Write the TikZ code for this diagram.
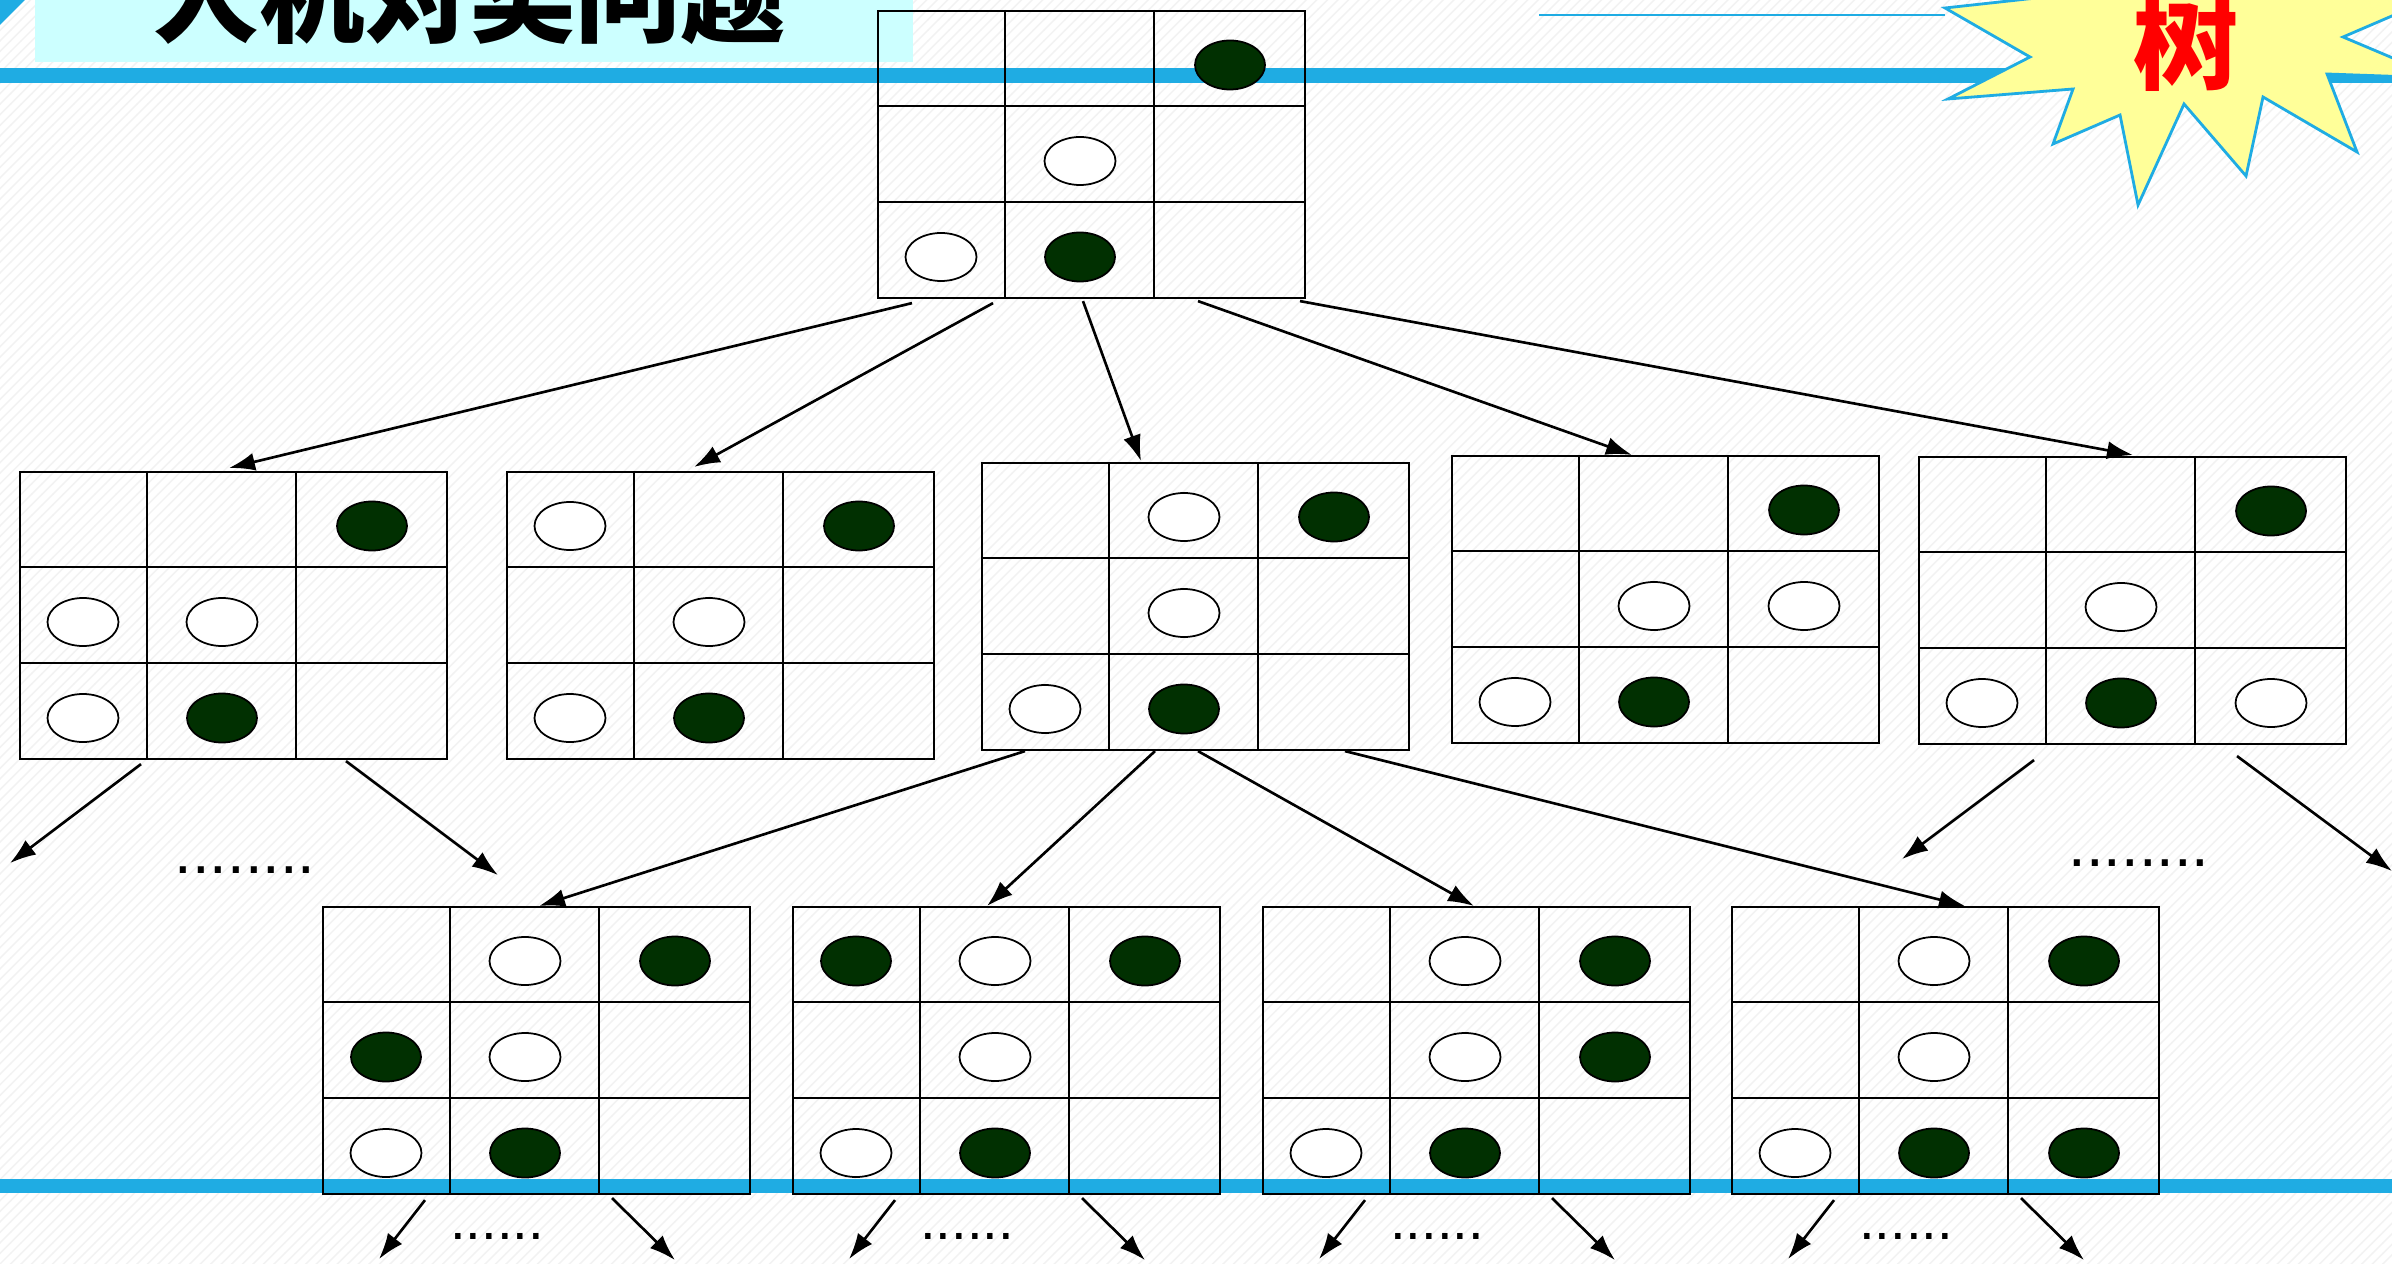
\documentclass[tikz,border=0pt]{standalone}
\usepackage{fontspec}
\setmainfont{Liberation Sans}
\newfontfamily\cjk{Noto Sans CJK SC}
\usepackage{tikz}
\usetikzlibrary{arrows.meta, positioning, calc, patterns}
\definecolor{slideblue}{HTML}{1FACE3}
\definecolor{titlecyan}{HTML}{CCFFFF}
\definecolor{staryellow}{HTML}{FFFF99}
\definecolor{stonedark}{HTML}{013001}
\tikzset{
  board/.style={draw, line width=0.6pt, inner sep=0pt, minimum width=4.27cm, minimum height=2.87cm, anchor=north west},
  gridline/.style={line width=0.6pt},
  darkstone/.style={fill=stonedark, draw=black, line width=0.5pt},
  whitestone/.style={fill=white, draw=black, line width=0.5pt},
  movearrow/.style={-{Latex[length=2.6mm, width=1.8mm]}, line width=0.75pt},
  moredots/.style={anchor=base, font=\fontsize{18}{18}\selectfont},
  fewdots/.style={anchor=base, font=\fontsize{16}{16}\selectfont}
}

\begin{document}
\begin{tikzpicture}[x=0.1mm, y=-0.1mm]
    \useasboundingbox (0,0) rectangle (2392,1264);
    \clip (0,0) rectangle (2392,1264);

    % Slide background
    \fill[white] (0,0) rectangle (2392,1264);
    \fill[pattern=north east lines, pattern color=black!5] (0,0) rectangle (2392,1264);
    \fill[titlecyan] (35,0) rectangle (913,62);
    \fill[slideblue] (0,68) rectangle (2392,83);
    \fill[slideblue] (0,1179) rectangle (2392,1193);
    \fill[slideblue] (0,0) -- (25,0) -- (0,25) -- cycle;
    \draw[slideblue, line width=0.6pt] (1539,15) -- (1945,15);

    % Star
    \filldraw[fill=staryellow, draw=slideblue, line width=0.8pt] (1945,8) -- (2100,-9) -- (2450,-9) -- (2343,37) -- (2440,78) -- (2327,74) -- (2357,152) -- (2263,97) -- (2246,176) -- (2184,104) -- (2138,205) -- (2120,115) -- (2053,144) -- (2073,89) -- (1948,99) -- (2030,57) -- cycle;

    \node[anchor=base, font=\cjk\bfseries\fontsize{30}{30}\selectfont] (title) at (470,35) {人机对奕问题};
    \node[anchor=base, text=red, font=\cjk\bfseries\fontsize{30}{30}\selectfont] (treelabel) at (2186,82) {树};

    % Boards
    \foreach \bname/\bx/\by in {top/877/10, b1/19/471, b2/506/471, b3/981/462, b4/1451/455, b5/1918/456, c1/322/906, c2/792/906, c3/1262/906, c4/1731/906} {
        \node[board] (\bname) at (\bx,\by) {};
        \draw[gridline] ($(\bname.north west)+(128,0)$) -- ($(\bname.south west)+(128,0)$);
        \draw[gridline] ($(\bname.north west)+(277,0)$) -- ($(\bname.south west)+(277,0)$);
        \draw[gridline] ($(\bname.north west)+(0,96)$) -- ($(\bname.north east)+(0,96)$);
        \draw[gridline] ($(\bname.north west)+(0,192)$) -- ($(\bname.north east)+(0,192)$);
    }

    % Stones
    \foreach \bname/\row/\col in {top/1/3, top/3/2, b1/1/3, b1/3/2, b2/1/3, b2/3/2, b3/1/3, b3/3/2, b4/1/3, b4/3/2, b5/1/3, b5/3/2, c1/1/3, c1/2/1, c1/3/2, c2/1/1, c2/1/3, c2/3/2, c3/1/3, c3/2/3, c3/3/2, c4/1/3, c4/3/2, c4/3/3} {
        \pgfmathsetmacro\cx{{64,203,353}[\col-1]}
        \pgfmathsetmacro\cy{{55,151,247}[\row-1]}
        \filldraw[darkstone] ($(\bname.north west)+(\cx,\cy)$) ellipse [x radius=0.35cm, y radius=0.245cm];
    }
    \foreach \bname/\row/\col in {top/2/2, top/3/1, b1/2/1, b1/2/2, b1/3/1, b2/1/1, b2/2/2, b2/3/1, b3/1/2, b3/2/2, b3/3/1, b4/2/2, b4/2/3, b4/3/1, b5/2/2, b5/3/1, b5/3/3, c1/1/2, c1/2/2, c1/3/1, c2/1/2, c2/2/2, c2/3/1, c3/1/2, c3/2/2, c3/3/1, c4/1/2, c4/2/2, c4/3/1} {
        \pgfmathsetmacro\cx{{64,203,353}[\col-1]}
        \pgfmathsetmacro\cy{{55,151,247}[\row-1]}
        \filldraw[whitestone] ($(\bname.north west)+(\cx,\cy)$) ellipse [x radius=0.355cm, y radius=0.24cm];
    }

    % Moves from the root
    \draw[movearrow] ($(top.south west)+(35,4)$) -- ($(b1.north west)+(210,-3)$);
    \draw[movearrow] ($(top.south west)+(116,4)$) -- ($(b2.north west)+(188,-4)$);
    \draw[movearrow] ($(top.south west)+(206,2)$) -- ($(b3.north west)+(160,-1)$);
    \draw[movearrow] ($(top.south west)+(321,2)$) -- ($(b4.north west)+(181,0)$);
    \draw[movearrow] ($(top.south west)+(423,2)$) -- ($(b5.north west)+(215,-1)$);

    % Moves from the middle board
    \draw[movearrow] ($(b3.south west)+(44,0)$) -- ($(c1.north west)+(217,0)$);
    \draw[movearrow] ($(b3.south west)+(174,0)$) -- ($(c2.north west)+(195,0)$);
    \draw[movearrow] ($(b3.south west)+(217,0)$) -- ($(c3.north west)+(212,0)$);
    \draw[movearrow] ($(b3.south west)+(364,0)$) -- ($(c4.north west)+(234,0)$);

    % Open branches
    \draw[movearrow] ($(b1.south west)+(122,4)$) -- ++(-131,99);
    \draw[movearrow] ($(b1.south west)+(327,1)$) -- ++(152,114);
    \node[moredots] (dots1) at ($(b1.south west)+(226,113)$) {........};
    \draw[movearrow] ($(b5.south west)+(116,15)$) -- ++(-132,99);
    \draw[movearrow] ($(b5.south west)+(319,11)$) -- ++(155,115);
    \node[moredots] (dots5) at ($(b5.south west)+(221,121)$) {........};
    \foreach \bname in {c1, c2, c3, c4} {
        \draw[movearrow] ($(\bname.south west)+(103,5)$) -- ++(-46,59);
        \draw[movearrow] ($(\bname.south west)+(290,3)$) -- ++(63,62);
        \node[fewdots] (dots\bname) at ($(\bname.south west)+(175,44)$) {......};
    }
\end{tikzpicture}
\end{document}
